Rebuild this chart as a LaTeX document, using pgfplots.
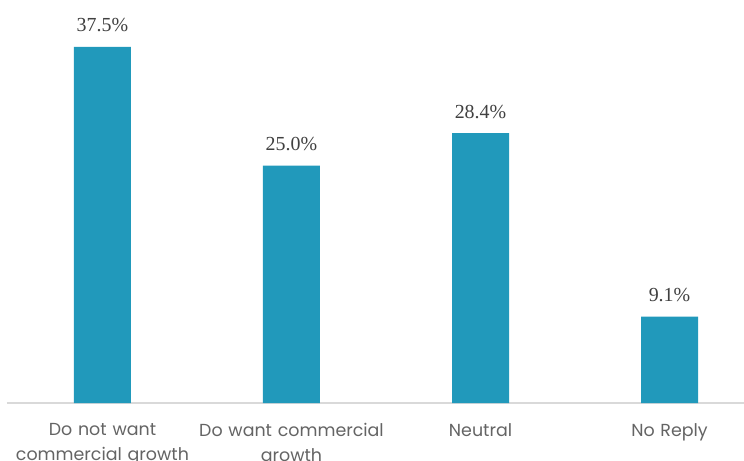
\documentclass[border=0pt]{standalone}
\usepackage{pgfplots}
\pgfplotsset{compat=1.18}
\usepackage{fontspec}
\setmainfont{Liberation Serif}
\newfontfamily\catfont{Poppins}
\definecolor{barc}{RGB}{33,153,187}
\definecolor{axc}{RGB}{217,217,217}
\definecolor{lblc}{RGB}{64,64,64}
\definecolor{catc}{RGB}{100,100,100}
\begin{document}
\begin{tikzpicture}
\path[use as bounding box] (-7bp,-58bp) rectangle (737bp,403bp);
\begin{axis}[
  at={(0,0)}, anchor=south west,
  scale only axis, width=737bp, height=399bp,
  xmin=-0.505, xmax=3.394, ymin=0, ymax=42,
  axis x line*=bottom, axis y line=none,
  x axis line style={draw=axc, line width=2bp, -},
  xtick={0,1,2,3}, major tick length=0pt,
  xticklabels={Do not want\\commercial growth, Do want commercial\\growth, Neutral, No Reply},
  xticklabel style={font=\catfont\fontsize{17.5}{25}\selectfont, text=catc, align=center, text width=230bp, yshift=-17bp},
  /pgf/number format/assume math mode=true,
  ybar, bar width=57bp,
  nodes near coords={\pgfmathprintnumber[fixed,precision=1,fixed zerofill]{\pgfplotspointmeta}\%},
  nodes near coords style={font=\fontsize{20}{22}\selectfont, text=lblc, yshift=11bp},
]
\addplot[fill=barc, draw=none] coordinates {(0,37.5) (1,25.0) (2,28.4) (3,9.1)};
\end{axis}
\end{tikzpicture}
\end{document}
